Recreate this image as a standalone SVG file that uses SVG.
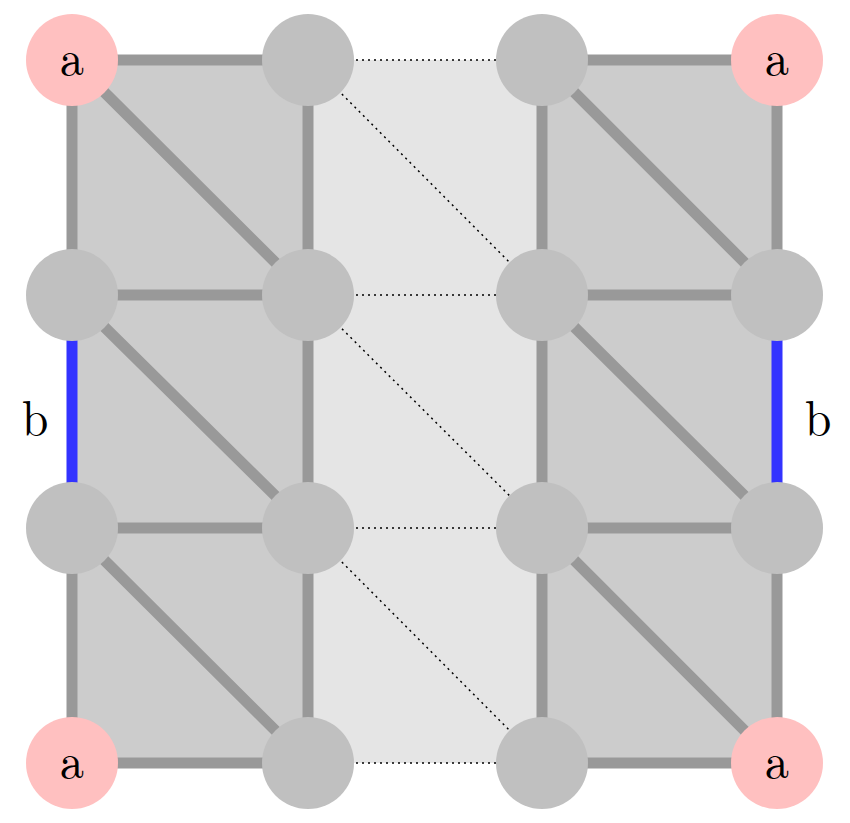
<svg xmlns="http://www.w3.org/2000/svg" width="850" height="823" viewBox="0 0 850 823">
<style>
.e{stroke:#999;stroke-width:11;fill:none}
.d{stroke:#000;stroke-width:1.5;stroke-dasharray:2,4;fill:none}
.n{fill:#c0c0c0}
.p{fill:#ffc0c0}
text{font-family:"Latin Modern Roman","Liberation Serif",serif;font-size:48px;text-anchor:middle;fill:#000}
</style>
<rect width="850" height="823" fill="#fff"/>
<rect x="72" y="60" width="236" height="703" fill="#ccc"/>
<rect x="308" y="60" width="234" height="703" fill="#e5e5e5"/>
<rect x="542" y="60" width="235" height="703" fill="#ccc"/>
<g id="connectors">
<path class="e" d="M72 60H308M72 295H308M72 528H308M72 763H308M542 60H777M542 295H777M542 528H777M542 763H777"/>
<path class="e" d="M72 60V295M72 528V763M308 60V763M542 60V763M777 60V295M777 528V763"/>
<path d="M72 295V528M777 295V528" stroke="#33f" stroke-width="11"/>
<path class="e" d="M72 60L308 295M72 295L308 528M72 528L308 763M542 60L777 295M542 295L777 528M542 528L777 763"/>
<path class="d" d="M308 60H542M308 295H542M308 528H542M308 763H542M308 60L542 295M308 295L542 528M308 528L542 763"/>
</g>
<g id="n00"><circle class="p" cx="72" cy="60" r="46"/><text x="72" y="75">a</text></g>
<g id="n01"><circle class="n" cx="308" cy="60" r="46"/></g>
<g id="n02"><circle class="n" cx="542" cy="60" r="46"/></g>
<g id="n03"><circle class="p" cx="777" cy="60" r="46"/><text x="777" y="75">a</text></g>
<g id="n10"><circle class="n" cx="72" cy="295" r="46"/></g>
<g id="n11"><circle class="n" cx="308" cy="295" r="46"/></g>
<g id="n12"><circle class="n" cx="542" cy="295" r="46"/></g>
<g id="n13"><circle class="n" cx="777" cy="295" r="46"/></g>
<g id="n20"><circle class="n" cx="72" cy="528" r="46"/></g>
<g id="n21"><circle class="n" cx="308" cy="528" r="46"/></g>
<g id="n22"><circle class="n" cx="542" cy="528" r="46"/></g>
<g id="n23"><circle class="n" cx="777" cy="528" r="46"/></g>
<g id="n30"><circle class="p" cx="72" cy="763" r="46"/><text x="72" y="778">a</text></g>
<g id="n31"><circle class="n" cx="308" cy="763" r="46"/></g>
<g id="n32"><circle class="n" cx="542" cy="763" r="46"/></g>
<g id="n33"><circle class="p" cx="777" cy="763" r="46"/><text x="777" y="778">a</text></g>
<text x="35" y="435">b</text>
<text x="818" y="435">b</text>
</svg>
